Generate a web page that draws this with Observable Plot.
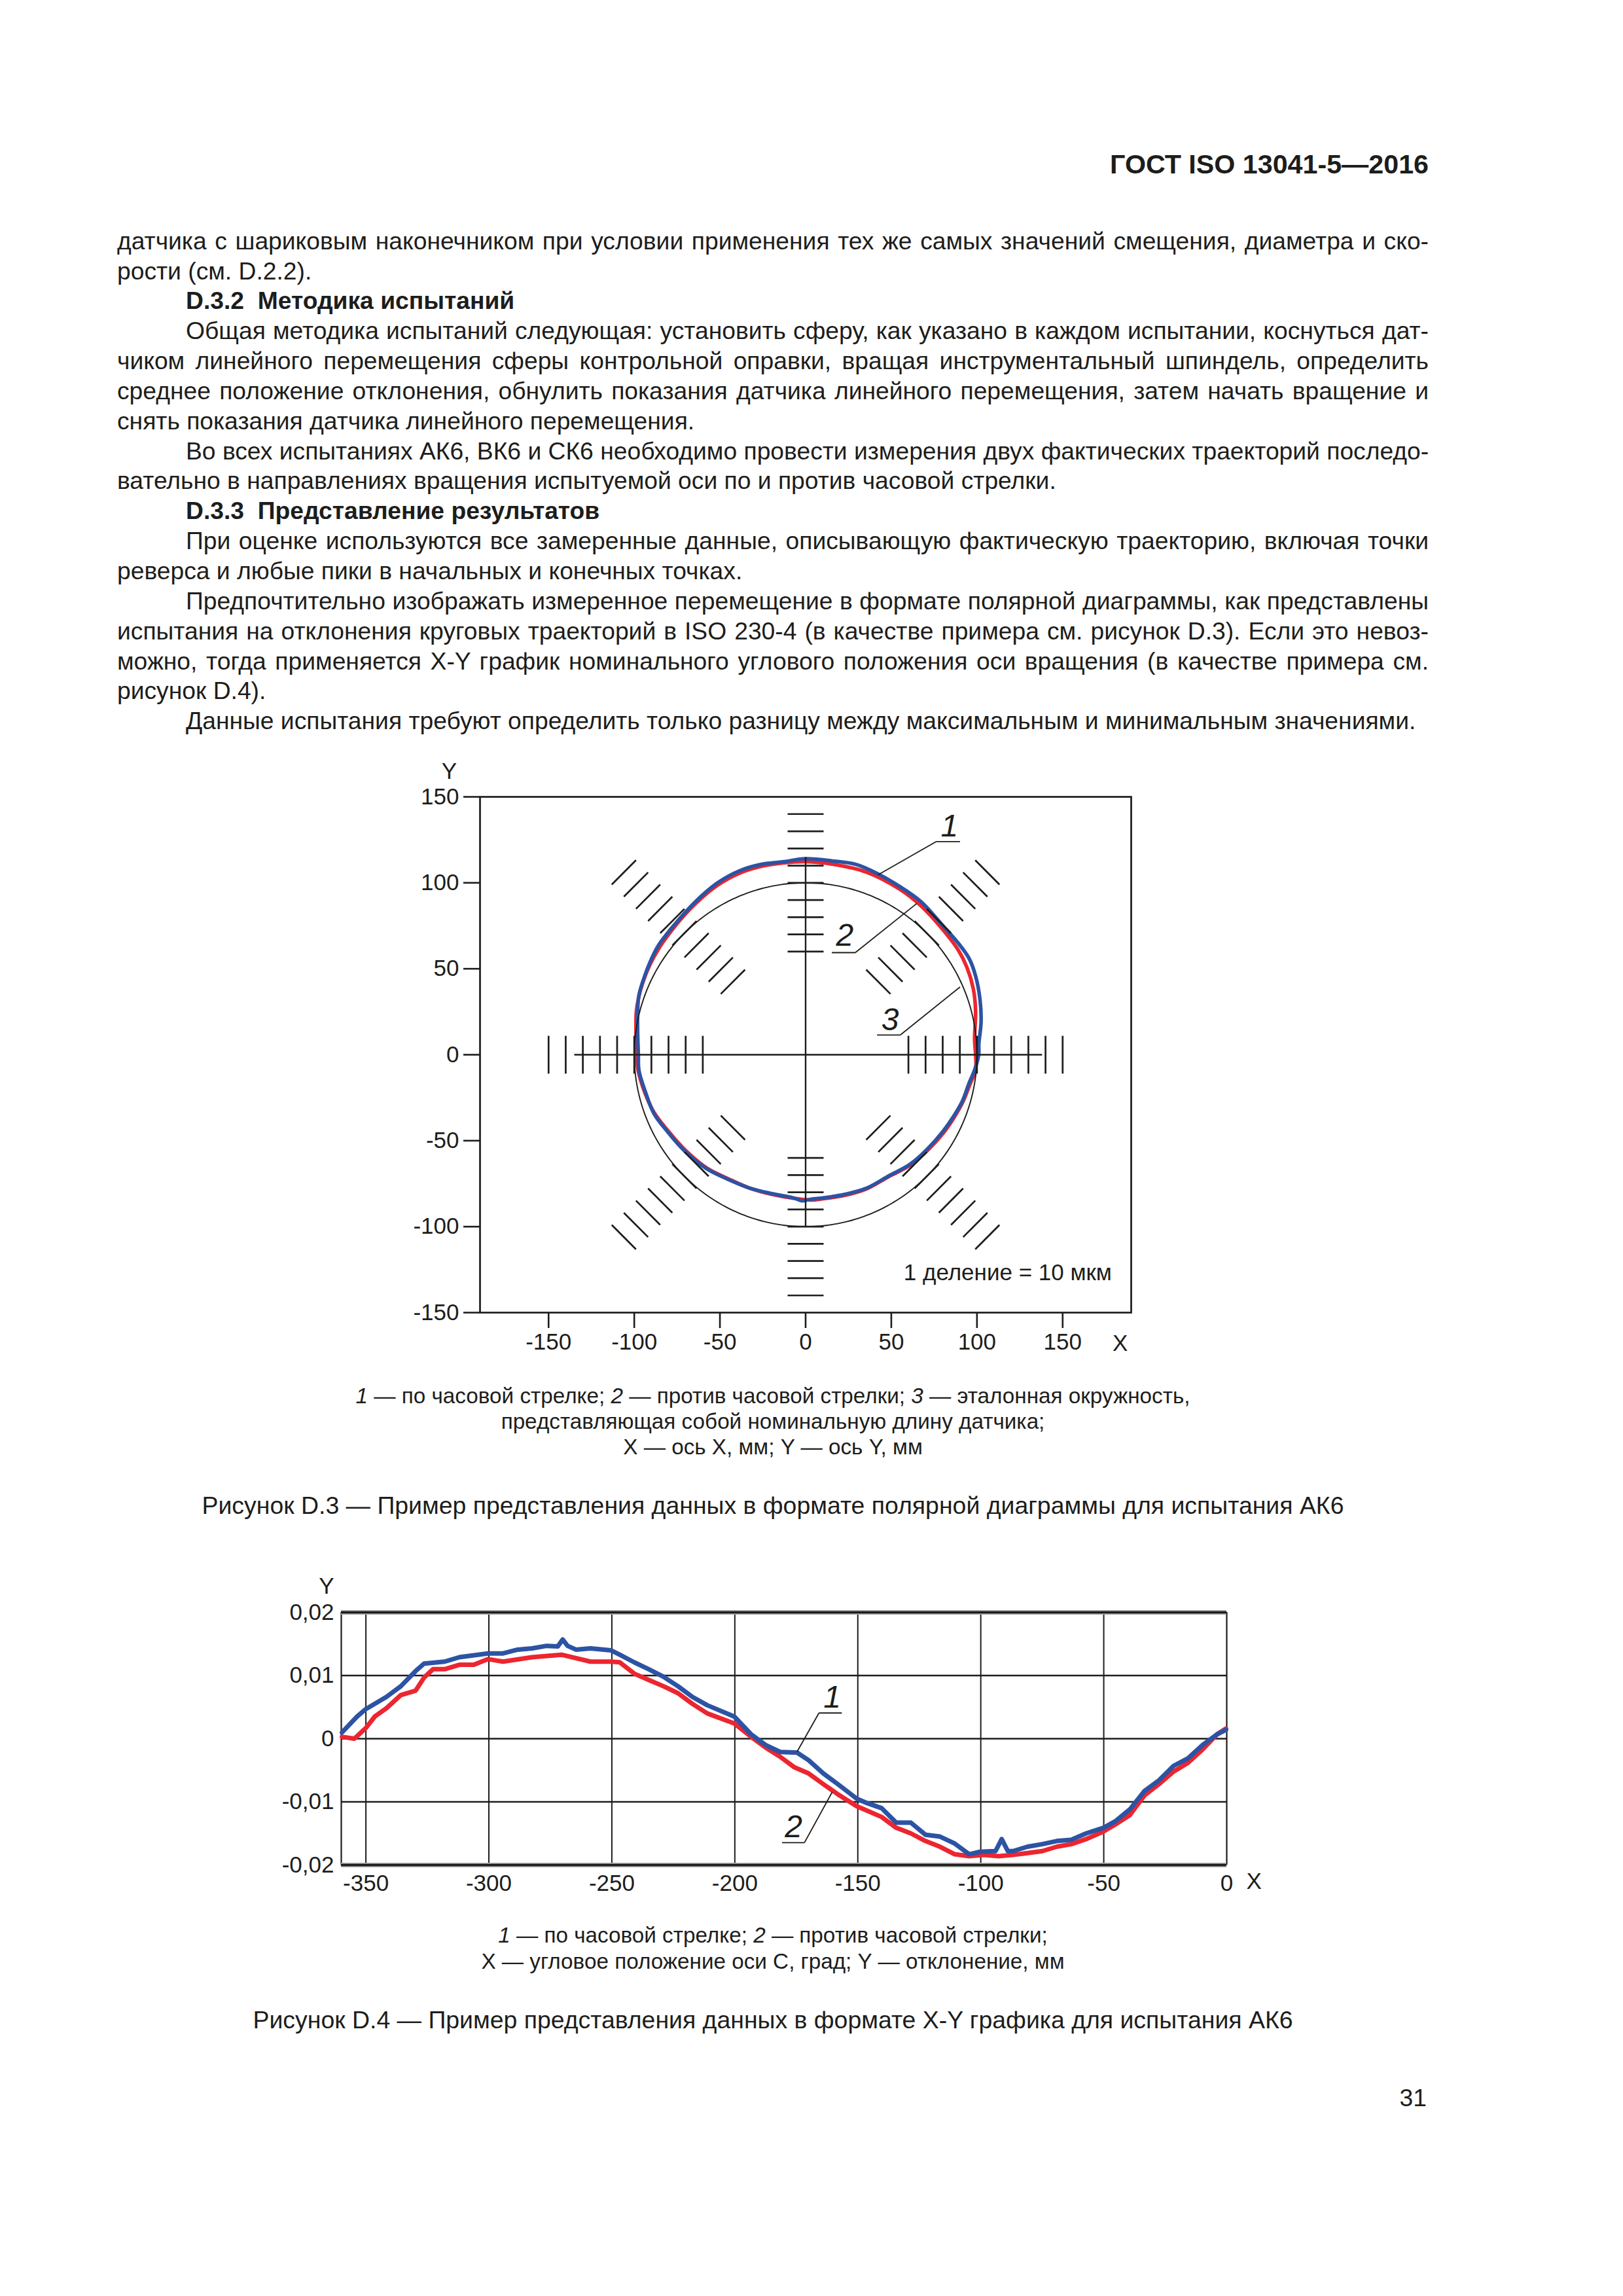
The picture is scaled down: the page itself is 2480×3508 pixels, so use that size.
<!DOCTYPE html>
<html><head><meta charset="utf-8">
<script src="https://cdn.jsdelivr.net/npm/d3@7"></script>
<script src="https://cdn.jsdelivr.net/npm/@observablehq/plot@0.6"></script>
<style>
html,body{margin:0;padding:0;background:#fff;}
#page{position:relative;width:2480px;height:3508px;background:#fff;overflow:hidden;font-family:"Liberation Sans",Arial,sans-serif;color:#1d1d1b;}
.ln{position:absolute;white-space:nowrap;}
.fig{position:absolute;}
</style></head><body><div id="page"></div>
<script>
// ---------------- DATA: Figure D.3 (polar diagram) ----------------
const polarAxisTicks = [-150, -100, -50, 0, 50, 100, 150];
const hTickVals = [-150,-140,-130,-120,-110,-100,-90,-80,-70,-60,60,70,80,90,100,110,120,130,140,150];
const vTickVals = [-140,-130,-120,-110,-100,-90,-80,-70,-60,60,70,80,90,100,110,120,130,140];
const diagRadii = [60,70,80,90,100,110,120,130,140,150];
const diagAngles = [45,135,225,315];
const refRadius = 100;
// curve 1 (clockwise, blue)
const polarBlueX = [101,101.1,102.4,101.8,99.2,95.4,89,80.2,67.4,54.7,42,29.3,16.5,0,-13.4,-26.1,-38.8,-51.5,-64.3,-77,-85.9,-91,-94.8,-97.3,-98,-98,-97.6,-97.3,-93.5,-88.4,-80.8,-70.6,-57.9,-45.2,-32.6,-19.7,-7,-2,3.2,10.2,22.9,35.6,48.3,61.1,71.2,80.2,86.5,91.6,95.4,98.6];
const polarBlueY = [0,6.4,19.1,31.8,45.8,56,65,75,89,98,105.3,110.7,112.6,114,112.2,110.7,106.9,99.9,89,75.1,63.6,53.4,43.2,34.4,25.5,12.7,0,-8.9,-21.6,-34.4,-44.5,-56,-66.2,-72.5,-77.6,-80.8,-83.3,-85,-84,-83.3,-81.2,-77.6,-70.6,-63.6,-54.7,-44.5,-35.6,-26.7,-16.5,-8.9];
// curve 2 (counter-clockwise, red)
const polarRedX = [99.2,98.6,99.2,97.9,94.1,89,80.2,67.4,54.7,35.6,16.5,0,-13.4,-26.1,-38.8,-51.5,-64.3,-77,-85.5,-91,-95,-97.5,-98.8,-99,-98.9,-97.8,-94,-88.5,-80.5,-70.2,-57.5,-45,-32.6,-19.7,-7,3,10.2,22.9,35.6,48.3,61.5,71.8,80.8,87,92,96,99.2];
const polarRedY = [0,8.9,25.5,38.2,50.9,61,72.6,86.5,96.4,106.2,110.7,112.3,111.5,109.5,105.5,98.5,87.8,73.8,62,52,42,33,25,12.7,0,-8.9,-21.6,-33.5,-44,-55.5,-66,-72.2,-77.6,-81.2,-83.5,-84.5,-83.8,-81.8,-78,-71,-64,-55,-45,-36,-27,-17,-9];
// key labels 1,2,3 with underline and leader
const polarKeyText = ["1","2","3"];
const polarKeyX = [84, 22.9, 49.3];
const polarKeyY = [133, 69.4, 20.3];
const polarUnderX1 = [76.3, 15.3, 41.7];
const polarUnderX2 = [90.1, 29, 55.3];
const polarUnderY = [124, 59.4, 11.5];
const polarLeaderFromX = [76.3, 29, 55.3];
const polarLeaderToX = [42.2, 64.9, 90.1];
const polarLeaderToY = [104.6, 88, 39.4];
const polarNote = [{x: 178.7, y: -127, t: "1 деление = 10 мкм"}];
const polarAxisNames = [{x: -208, y: 164.7, t: "Y"}, {x: 183.6, y: -168, t: "X"}];

// ---------------- DATA: Figure D.4 (X-Y graph) ----------------
const xyTicksX = [-350,-300,-250,-200,-150,-100,-50,0];
const xyTicksY = [-0.02,-0.01,0,0.01,0.02];
const xyGridX = [-350,-300,-250,-200,-150,-100,-50];
const xyGridY = [-0.01,0,0.01];
const xyBlueX = [-359.7,-353.6,-350,-341.7,-335.8,-329.8,-326.3,-318,-312,-300.4,-294.2,-288.3,-282.4,-276.5,-272,-270,-268,-264.6,-258.7,-250.4,-246.8,-240.9,-235,-229,-223.1,-217.2,-211.2,-200.2,-193.4,-187.5,-181.6,-174.7,-170,-164,-158.1,-150.4,-146.2,-140.3,-134.4,-128.4,-122.5,-116.6,-110.6,-104.7,-100.3,-94,-91.5,-89,-86.9,-81,-75,-69.1,-63.2,-57.2,-50.1,-45.4,-39.4,-33.5,-27.6,-21.6,-15.7,-9.8,-3.9,-0.3];
const xyBlueY = [0.0010,0.0035,0.0047,0.0066,0.0083,0.0107,0.0119,0.0122,0.0129,0.0135,0.0135,0.0141,0.0143,0.0147,0.0146,0.0157,0.0147,0.0141,0.0143,0.0140,0.0133,0.0121,0.0110,0.0098,0.0083,0.0066,0.0053,0.0035,0.0007,-0.0010,-0.0021,-0.0022,-0.0034,-0.0055,-0.0072,-0.0095,-0.0102,-0.0110,-0.0133,-0.0133,-0.0152,-0.0155,-0.0166,-0.0183,-0.0179,-0.0178,-0.0159,-0.0178,-0.0178,-0.0171,-0.0167,-0.0162,-0.0160,-0.0150,-0.0141,-0.0131,-0.0112,-0.0083,-0.0066,-0.0043,-0.0031,-0.0010,0.0007,0.0014];
const xyRedX = [-359.7,-354.7,-350,-346.4,-341.7,-335.8,-329.8,-326.3,-322.7,-318,-312,-306.1,-300.4,-294.2,-282.4,-270.5,-258.7,-250.4,-246.8,-240.9,-235,-229,-223.1,-217.2,-211.2,-200.2,-193.4,-187.5,-181.8,-175.9,-170,-164,-158.1,-150.4,-146.2,-140.3,-134.4,-128.4,-122.5,-116.6,-110.6,-104.7,-98.8,-92.8,-86.9,-81,-75,-69.1,-63.2,-57.2,-50.1,-45.4,-39.4,-33.5,-27.6,-21.6,-15.7,-9.8,-3.9,-0.3];
const xyRedY = [0.0003,0,0.0017,0.0035,0.0048,0.0069,0.0076,0.0097,0.0110,0.0110,0.0117,0.0117,0.0126,0.0122,0.0129,0.0133,0.0122,0.0122,0.0121,0.0103,0.0093,0.0083,0.0072,0.0055,0.0040,0.0024,0.0003,-0.0014,-0.0028,-0.0045,-0.0055,-0.0072,-0.0088,-0.0107,-0.0114,-0.0124,-0.0141,-0.0150,-0.0162,-0.0171,-0.0183,-0.0186,-0.0184,-0.0186,-0.0184,-0.0181,-0.0178,-0.0171,-0.0167,-0.0159,-0.0147,-0.0136,-0.0121,-0.0090,-0.0072,-0.0052,-0.0038,-0.0017,0.0007,0.0016];
const xyKeyText = ["1","2"];
const xyKeyX = [-160.4, -176.1];
const xyKeyY = [0.00656, -0.01396];
const xyUnderX1 = [-165.8, -180.8];
const xyUnderX2 = [-156.5, -171.7];
const xyUnderY = [0.00407, -0.01647];
const xyLeaderFromX = [-165.8, -171.7];
const xyLeaderToX = [-174.7, -160.4];
const xyLeaderToY = [-0.00207, -0.00844];
const xyAxisNames = [{x: -366, y: 0.0241, t: "Y"}, {x: 11.1, y: -0.02263, t: "X"}];

// ---------------- TEXT ----------------
const headerText = "ГОСТ ISO 13041-5—2016";
const bodyLines = [
 ["датчика с шариковым наконечником при условии применения тех же самых значений смещения, диаметра и ско-",0,1,0],
 ["рости (см. D.2.2).",0,0,0],
 ["D.3.2\u00a0\u00a0Методика испытаний",1,0,1],
 ["Общая методика испытаний следующая: установить сферу, как указано в каждом испытании, коснуться дат-",1,1,0],
 ["чиком линейного перемещения сферы контрольной оправки, вращая инструментальный шпиндель, определить",0,1,0],
 ["среднее положение отклонения, обнулить показания датчика линейного перемещения, затем начать вращение и",0,1,0],
 ["снять показания датчика линейного перемещения.",0,0,0],
 ["Во всех испытаниях АК6, ВК6 и СК6 необходимо провести измерения двух фактических траекторий последо-",1,1,0],
 ["вательно в направлениях вращения испытуемой оси по и против часовой стрелки.",0,0,0],
 ["D.3.3\u00a0\u00a0Представление результатов",1,0,1],
 ["При оценке используются все замеренные данные, описывающую фактическую траекторию, включая точки",1,1,0],
 ["реверса и любые пики в начальных и конечных точках.",0,0,0],
 ["Предпочтительно изображать измеренное перемещение в формате полярной диаграммы, как представлены",1,1,0],
 ["испытания на отклонения круговых траекторий в ISO 230-4 (в качестве примера см. рисунок D.3). Если это невоз-",0,1,0],
 ["можно, тогда применяется X-Y график номинального углового положения оси вращения (в качестве примера см.",0,1,0],
 ["рисунок D.4).",0,0,0],
 ["Данные испытания требуют определить только разницу между максимальным и минимальным значениями.",1,0,0]
];
const cap3 = ["<i>1</i> — по часовой стрелке; <i>2</i> — против часовой стрелки; <i>3</i> — эталонная окружность,",
              "представляющая собой номинальную длину датчика;",
              "X — ось X, мм; Y — ось Y, мм"];
const title3 = "Рисунок D.3 — Пример представления данных в формате полярной диаграммы для испытания АК6";
const cap4 = ["<i>1</i> — по часовой стрелке; <i>2</i> — против часовой стрелки;",
              "X — угловое положение оси С, град; Y — отклонение, мм"];
const title4 = "Рисунок D.4 — Пример представления данных в формате X-Y графика для испытания АК6";
const pageNumber = "31";

// ---------------- LAYOUT ----------------
const INK = "#1d1d1b", BLUE = "#2c53a4", RED = "#ec2630";
const FONT = '"Liberation Sans", Arial, sans-serif';
const page = document.getElementById("page");
const cv = document.createElement("canvas").getContext("2d");
function measure(text, size, weight="normal", style="normal") {
  cv.font = `${style} ${weight} ${size}px "Liberation Sans", Arial, sans-serif`;
  return cv.measureText(text).width;
}
function fit(text, target, weight="normal") { return 100 * target / measure(text, 100, weight); }
function strip(h) { return h.replace(/<[^>]+>/g, ""); }
function textLine(html, o) {
  const d = document.createElement("div");
  d.className = "ln";
  const ind = o.indent || 0;
  d.style.left = (o.left + ind) + "px";
  d.style.width = (o.width - ind) + "px";
  d.style.top = (o.baseline - 0.9215 * o.fs) + "px";
  d.style.fontSize = o.fs + "px";
  d.style.lineHeight = (1.15 * o.fs) + "px";
  d.style.fontWeight = o.weight || "normal";
  d.style.textAlign = o.justify ? "justify" : (o.align || "left");
  if (o.justify) d.style.textAlignLast = "justify";
  d.innerHTML = html;
  page.appendChild(d);
}
const L = 179, W = 2004, IND = 105;
// header
const hfs = fit(headerText, 487, "bold");
textLine(headerText, {left: L, width: W, baseline: 266, fs: hfs, weight: "bold", align: "right"});
// body
let fs = fit(bodyLines[16][0], 1888);
bodyLines.forEach(([t, ind, j, b]) => {
  if (j) { const w = measure(t, fs, b ? "bold" : "normal"); const av = W - (ind ? IND : 0); if (w > av) fs *= av / w; }
});
bodyLines.forEach(([t, ind, j, b], i) => {
  textLine(t, {left: L, width: W, baseline: 381 + i * 45.85, fs, indent: ind ? IND : 0, justify: !!j, weight: b ? "bold" : "normal"});
});
// captions
const capFs = fit(strip(cap3[0]), 1275);
const titleFs = fit(title3, 1746);
const CX = 1181;
[2145, 2184, 2223].forEach((b, i) => textLine(cap3[i], {left: CX - 1100, width: 2200, baseline: b, fs: capFs, align: "center"}));
textLine(title3, {left: CX - 1100, width: 2200, baseline: 2313, fs: titleFs, align: "center"});
[2969, 3009].forEach((b, i) => textLine(cap4[i], {left: CX - 1100, width: 2200, baseline: b, fs: capFs, align: "center"}));
textLine(title4, {left: CX - 1100, width: 2200, baseline: 3099, fs: titleFs, align: "center"});
textLine(pageNumber, {left: L, width: 2001, baseline: 3218, fs, align: "right"});

// ---------------- FIGURE D.3 ----------------
const polarBlue = polarBlueX.map((x, i) => ({x, y: polarBlueY[i]}));
const polarRed = polarRedX.map((x, i) => ({x, y: polarRedY[i]}));
const refCircle = d3.range(0, 360, 1).map(t => ({x: refRadius * Math.cos(t * Math.PI / 180), y: refRadius * Math.sin(t * Math.PI / 180)}));
const TH = 11, TV = 10.5, TD = 10;
const diagTicks = diagAngles.flatMap(a => diagRadii.map(r => ({a: a * Math.PI / 180, r})));
const polarKeys = polarKeyText.map((t, i) => ({t, x: polarKeyX[i], y: polarKeyY[i]}));
const polarUnder = polarUnderX1.map((x1, i) => ({x1, x2: polarUnderX2[i], y: polarUnderY[i]}));
const polarLeaders = polarLeaderFromX.map((x1, i) => ({x1, y1: polarUnderY[i], x2: polarLeaderToX[i], y2: polarLeaderToY[i]}));
const axisLines = [{x1: -135, y1: 0, x2: 138, y2: 0}, {x1: 0, y1: -100, x2: 0, y2: 115}];

const polar = Plot.plot({
  width: 1200, height: 950, marginLeft: 133, marginRight: 72, marginTop: 77, marginBottom: 85,
  x: {domain: [-190, 190], axis: null},
  y: {domain: [-150, 150], axis: null},
  style: {fontFamily: FONT, fontSize: "35px", color: INK, background: "transparent", overflow: "visible", maxWidth: "none"},
  marks: [
    Plot.line(polarRed, {x: "x", y: "y", curve: "catmull-rom-closed", stroke: RED, strokeWidth: 5.5, strokeLinejoin: "round"}),
    Plot.line(polarBlue, {x: "x", y: "y", curve: "catmull-rom-closed", stroke: BLUE, strokeWidth: 5.5, strokeLinejoin: "round"}),
    Plot.line(refCircle, {x: "x", y: "y", curve: "linear-closed", stroke: INK, strokeWidth: 1.9}),
    Plot.link(axisLines, {x1: "x1", y1: "y1", x2: "x2", y2: "y2", stroke: INK, strokeWidth: 2.4}),
    Plot.link(hTickVals, {x1: d => d, x2: d => d, y1: () => -TH, y2: () => TH, stroke: INK, strokeWidth: 2.7}),
    Plot.link(vTickVals, {x1: () => -TV, x2: () => TV, y1: d => d, y2: d => d, stroke: INK, strokeWidth: 2.7}),
    Plot.link(diagTicks, {
      x1: d => d.r * Math.cos(d.a) + TD * Math.sin(d.a), y1: d => d.r * Math.sin(d.a) - TD * Math.cos(d.a),
      x2: d => d.r * Math.cos(d.a) - TD * Math.sin(d.a), y2: d => d.r * Math.sin(d.a) + TD * Math.cos(d.a),
      stroke: INK, strokeWidth: 2.7}),
    Plot.link(polarUnder, {x1: "x1", x2: "x2", y1: "y", y2: "y", stroke: INK, strokeWidth: 1.8}),
    Plot.link(polarLeaders, {x1: "x1", y1: "y1", x2: "x2", y2: "y2", stroke: INK, strokeWidth: 1.8}),
    Plot.text(polarKeys, {x: "x", y: "y", text: "t", fontSize: 48, fontStyle: "italic", fill: INK}),
    Plot.text(polarNote, {x: "x", y: "y", text: "t", fontSize: 35, textAnchor: "end", fill: INK}),
    Plot.text(polarAxisNames, {x: "x", y: "y", text: "t", fontSize: 35, fill: INK}),
    Plot.axisY(polarAxisTicks, {anchor: "left", tickSize: 25, tickPadding: 7, strokeWidth: 2.6, fontSize: 35, tickFormat: d => String(d), label: null}),
    Plot.axisX(polarAxisTicks, {anchor: "bottom", tickSize: 24, tickPadding: 8, strokeWidth: 2.6, fontSize: 35, tickFormat: d => String(d), label: null}),
    Plot.frame({stroke: INK, strokeWidth: 2.7})
  ]
});
const f1 = document.createElement("div"); f1.className = "fig";
f1.style.left = "600px"; f1.style.top = "1140px"; f1.style.width = "1200px";
f1.appendChild(polar); page.appendChild(f1);

// ---------------- FIGURE D.4 ----------------
const xyBlue = xyBlueX.map((x, i) => ({x, y: xyBlueY[i]}));
const xyRed = xyRedX.map((x, i) => ({x, y: xyRedY[i]}));
const xyKeys = xyKeyText.map((t, i) => ({t, x: xyKeyX[i], y: xyKeyY[i]}));
const xyUnder = xyUnderX1.map((x1, i) => ({x1, x2: xyUnderX2[i], y: xyUnderY[i]}));
const xyLeaders = xyLeaderFromX.map((x1, i) => ({x1, y1: xyUnderY[i], x2: xyLeaderToX[i], y2: xyLeaderToY[i]}));
const fmtY = d => d === 0 ? "0" : (d < 0 ? "-" : "") + Math.abs(d).toFixed(2).replace(".", ",");

const xy = Plot.plot({
  width: 1560, height: 540, marginLeft: 121, marginRight: 86, marginTop: 73, marginBottom: 81,
  x: {domain: [-360, 0], axis: null},
  y: {domain: [-0.02, 0.02], axis: null},
  style: {fontFamily: FONT, fontSize: "35px", color: INK, background: "transparent", overflow: "visible", maxWidth: "none"},
  marks: [
    Plot.ruleX(xyGridX, {stroke: INK, strokeWidth: 2}),
    Plot.ruleY(xyGridY, {stroke: INK, strokeWidth: 2.6}),
    Plot.ruleX([-360, 0], {stroke: INK, strokeWidth: 2.2}),
    Plot.ruleY([-0.02, 0.02], {stroke: "#a8a8a8", strokeWidth: 7}),
    Plot.ruleY([-0.02, 0.02], {stroke: INK, strokeWidth: 3.6}),
    Plot.line(xyRed, {x: "x", y: "y", stroke: RED, strokeWidth: 7, strokeLinejoin: "round"}),
    Plot.line(xyBlue, {x: "x", y: "y", stroke: BLUE, strokeWidth: 7, strokeLinejoin: "round"}),
    Plot.link(xyUnder, {x1: "x1", x2: "x2", y1: "y", y2: "y", stroke: INK, strokeWidth: 1.8}),
    Plot.link(xyLeaders, {x1: "x1", y1: "y1", x2: "x2", y2: "y2", stroke: INK, strokeWidth: 1.8}),
    Plot.text(xyKeys, {x: "x", y: "y", text: "t", fontSize: 48, fontStyle: "italic", fill: INK}),
    Plot.text(xyAxisNames, {x: "x", y: "y", text: "t", fontSize: 35, fill: INK}),
    Plot.axisY(xyTicksY, {anchor: "left", tickSize: 0, tickPadding: 11, fontSize: 35, tickFormat: fmtY, label: null}),
    Plot.axisX(xyTicksX, {anchor: "bottom", tickSize: 0, tickPadding: 15, fontSize: 35, tickFormat: d => String(d), label: null})
  ]
});
const f2 = document.createElement("div"); f2.className = "fig";
f2.style.left = "400px"; f2.style.top = "2390px"; f2.style.width = "1560px";
f2.appendChild(xy); page.appendChild(f2);
</script></body></html>
